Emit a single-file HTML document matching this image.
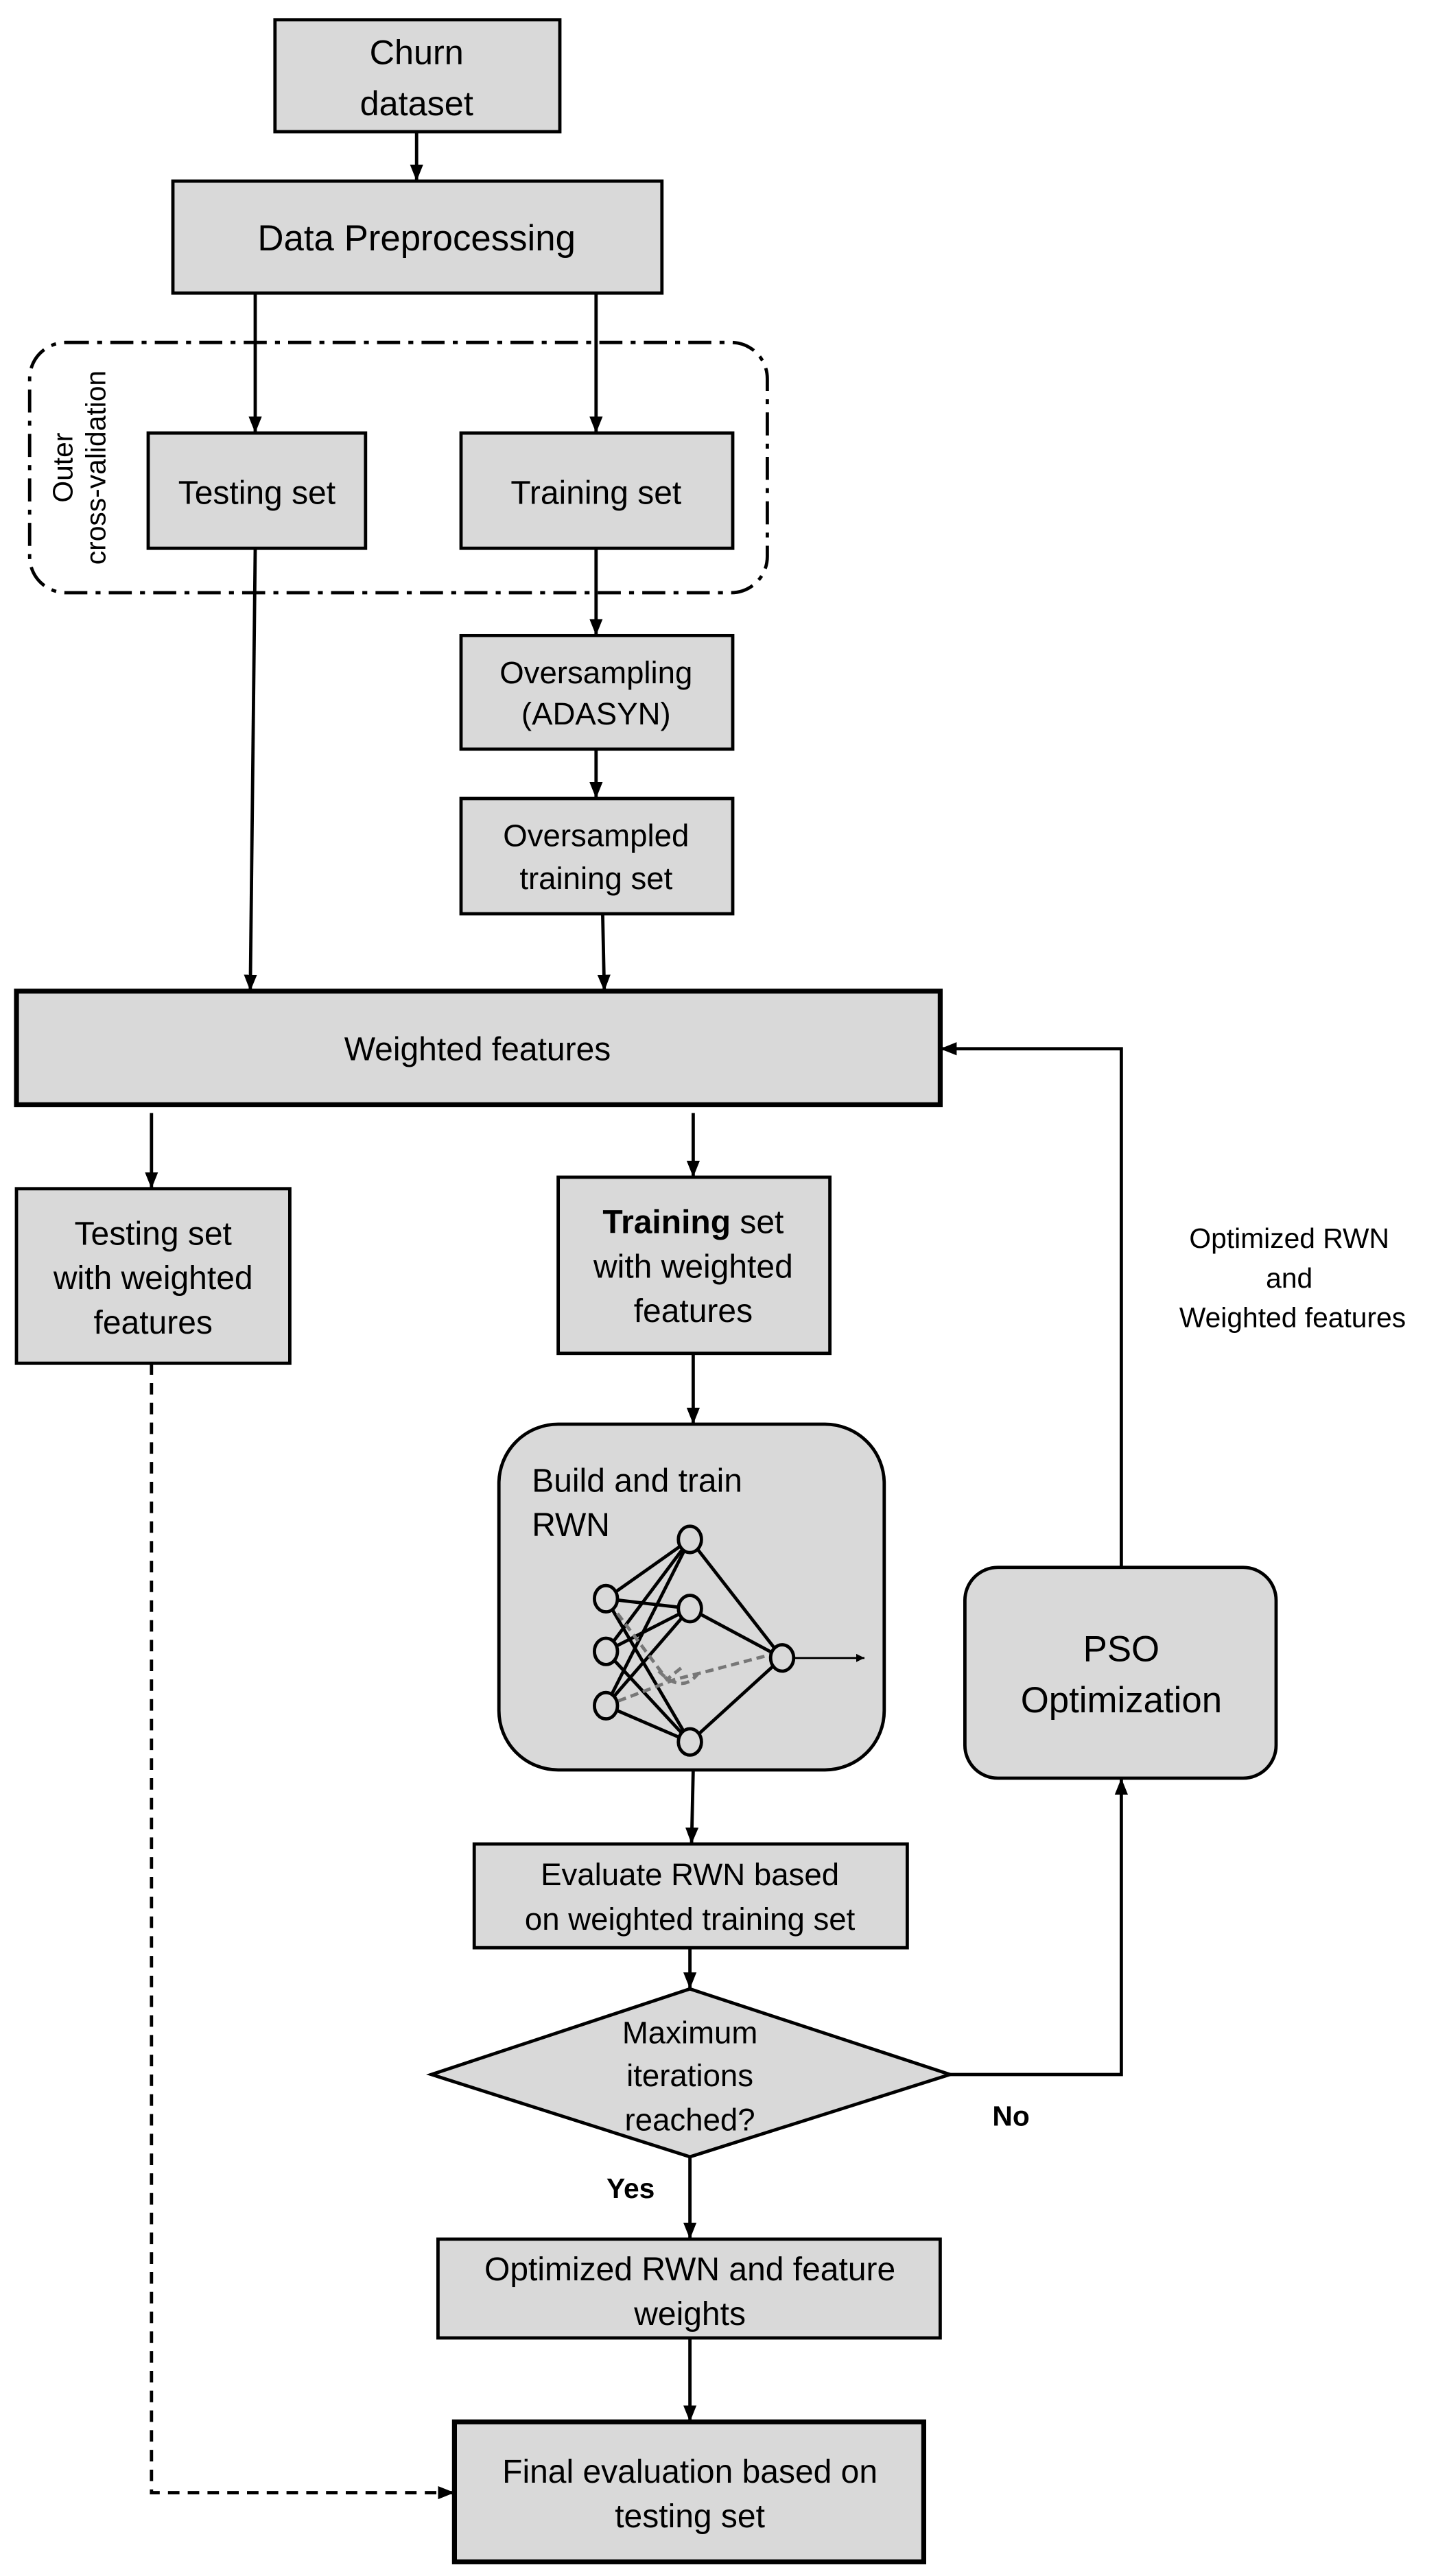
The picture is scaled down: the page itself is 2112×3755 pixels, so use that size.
<!DOCTYPE html>
<html><head><meta charset="utf-8"><style>
html,body{margin:0;padding:0;background:#fff;}
svg{display:block;}
text{font-family:"Liberation Sans",Arial,sans-serif;fill:#000;}
</style></head><body>
<svg width="2112" height="3755" viewBox="0 0 880 1564.6" xmlns="http://www.w3.org/2000/svg">
<defs>
<marker id="a" viewBox="0 0 10 10" refX="10" refY="5" markerWidth="5" markerHeight="5" orient="auto" markerUnits="userSpaceOnUse"><path d="M0,0 L10,5 L0,10 z" fill="#000"/></marker>
<marker id="ah" viewBox="0 0 10 10" refX="10" refY="5" markerWidth="10" markerHeight="10" orient="auto" markerUnits="userSpaceOnUse"><path d="M0,1 L10,5 L0,9 z" fill="#000"/></marker>
</defs>
<g stroke="#000" stroke-width="2" fill="none">
<!-- cross validation container -->
<rect x="18" y="208" width="448" height="152" rx="22" stroke-dasharray="14,5,3,5"/>
</g>
<g fill="#d9d9d9" stroke="#000" stroke-width="2">
<rect x="167" y="12" width="173" height="68"/>
<rect x="105" y="110" width="297" height="68"/>
<rect x="90" y="263" width="132" height="70"/>
<rect x="280" y="263" width="165" height="70"/>
<rect x="280" y="386" width="165" height="69"/>
<rect x="280" y="485" width="165" height="70"/>
<rect x="10" y="602" width="561" height="69" stroke-width="3"/>
<rect x="10" y="722" width="166" height="106"/>
<rect x="339" y="715" width="165" height="107"/>
<rect x="303" y="865" width="234" height="210" rx="36"/>
<rect x="586" y="952" width="189" height="128" rx="20"/>
<rect x="288" y="1120" width="263" height="63"/>
<polygon points="419,1208 577,1260 419,1310 262,1260"/>
<rect x="266" y="1360" width="305" height="60"/>
<rect x="276" y="1471" width="285" height="85" stroke-width="3"/>
</g>
<g stroke="#000" stroke-width="2" fill="none">
<line x1="253" y1="80" x2="253" y2="110" marker-end="url(#ah)"/>
<line x1="155" y1="178" x2="155" y2="263" marker-end="url(#ah)"/>
<line x1="362" y1="178" x2="362" y2="263" marker-end="url(#ah)"/>
<line x1="155" y1="333" x2="152" y2="602" marker-end="url(#ah)"/>
<line x1="362" y1="333" x2="362" y2="386" marker-end="url(#ah)"/>
<line x1="362" y1="455" x2="362" y2="485" marker-end="url(#ah)"/>
<line x1="366" y1="555" x2="367" y2="602" marker-end="url(#ah)"/>
<polyline points="681,952 681,637 571,637" marker-end="url(#ah)"/>
<line x1="92" y1="676" x2="92" y2="722" marker-end="url(#ah)"/>
<line x1="421" y1="676" x2="421" y2="715" marker-end="url(#ah)"/>
<line x1="421" y1="822" x2="421" y2="865" marker-end="url(#ah)"/>
<line x1="421" y1="1075" x2="420" y2="1120" marker-end="url(#ah)"/>
<line x1="419" y1="1183" x2="419" y2="1208" marker-end="url(#ah)"/>
<polyline points="577,1260 681,1260 681,1080" marker-end="url(#ah)"/>
<line x1="419" y1="1310" x2="419" y2="1360" marker-end="url(#ah)"/>
<line x1="419" y1="1420" x2="419" y2="1471" marker-end="url(#ah)"/>
<polyline points="92,828 92,1514 276,1514" stroke-dasharray="7,5" marker-end="url(#ah)"/>
</g>
<!-- neural net -->
<g stroke="#000" stroke-width="2" fill="none">
<g>
<line x1="368" y1="971" x2="419" y2="935"/><line x1="368" y1="971" x2="419" y2="977"/><line x1="368" y1="971" x2="419" y2="1058"/>
<line x1="368" y1="1003" x2="419" y2="935"/><line x1="368" y1="1003" x2="419" y2="977"/><line x1="368" y1="1003" x2="419" y2="1058"/>
<line x1="368" y1="1036" x2="419" y2="935"/><line x1="368" y1="1036" x2="419" y2="977"/><line x1="368" y1="1036" x2="419" y2="1058"/>
<line x1="419" y1="935" x2="475" y2="1007"/><line x1="419" y1="977" x2="475" y2="1007"/><line x1="419" y1="1058" x2="475" y2="1007"/>
</g>
<g stroke="#777" stroke-dasharray="5,3">
<path d="M375,980 L405,1020 L415,1012 M368,1036 L410,1020 L430,1015 L468,1005 M400,1015 Q415,1030 425,1015"/>
</g>
<line x1="482" y1="1007" x2="525" y2="1007" stroke-width="1.2" marker-end="url(#a)"/>
<g fill="#d9d9d9">
<ellipse cx="368" cy="971" rx="7" ry="8"/><ellipse cx="368" cy="1003" rx="7" ry="8"/><ellipse cx="368" cy="1036" rx="7" ry="8"/>
<ellipse cx="419" cy="935" rx="7" ry="8"/><ellipse cx="419" cy="977" rx="7" ry="8"/><ellipse cx="419" cy="1058" rx="7" ry="8"/>
<ellipse cx="475" cy="1007" rx="7" ry="8"/>
</g>
</g>
<!-- text -->
<g font-size="21" text-anchor="middle">
<text x="253" y="39">Churn</text><text x="253" y="70">dataset</text>
<text x="253" y="152" font-size="22">Data Preprocessing</text>
<text x="156" y="306" font-size="20">Testing set</text>
<text x="362" y="306" font-size="20">Training set</text>
<text transform="translate(44,284) rotate(-90)" font-size="17">Outer</text>
<text transform="translate(64,284) rotate(-90)" font-size="17">cross-validation</text>
<text x="362" y="415" font-size="19">Oversampling</text><text x="362" y="440" font-size="19">(ADASYN)</text>
<text x="362" y="514" font-size="19">Oversampled</text><text x="362" y="540" font-size="19">training set</text>
<text x="290" y="644" font-size="20">Weighted features</text>
<text x="93" y="756" font-size="20">Testing set</text><text x="93" y="783" font-size="20">with weighted</text><text x="93" y="810" font-size="20">features</text>
<text x="421" y="749" font-size="20"><tspan font-weight="bold">Training</tspan> set</text><text x="421" y="776" font-size="20">with weighted</text><text x="421" y="803" font-size="20">features</text>
<text x="783" y="758" font-size="17">Optimized RWN</text><text x="783" y="782" font-size="17">and</text><text x="785" y="806" font-size="17">Weighted features</text>
<text x="323" y="906" font-size="20" text-anchor="start">Build and train</text>
<text x="323" y="933" font-size="20" text-anchor="start">RWN</text>
<text x="681" y="1009" font-size="22">PSO</text><text x="681" y="1040" font-size="22">Optimization</text>
<text x="419" y="1145" font-size="19">Evaluate RWN based</text><text x="419" y="1172" font-size="19">on weighted training set</text>
<text x="419" y="1241" font-size="19">Maximum</text><text x="419" y="1267" font-size="19">iterations</text><text x="419" y="1294" font-size="19">reached?</text>
<text x="614" y="1291" font-size="17" font-weight="bold">No</text>
<text x="383" y="1335" font-size="17" font-weight="bold">Yes</text>
<text x="419" y="1385" font-size="20">Optimized RWN and feature</text><text x="419" y="1412" font-size="20">weights</text>
<text x="419" y="1508" font-size="20">Final evaluation based on</text><text x="419" y="1535" font-size="20">testing set</text>
</g>
</svg>
</body></html>
